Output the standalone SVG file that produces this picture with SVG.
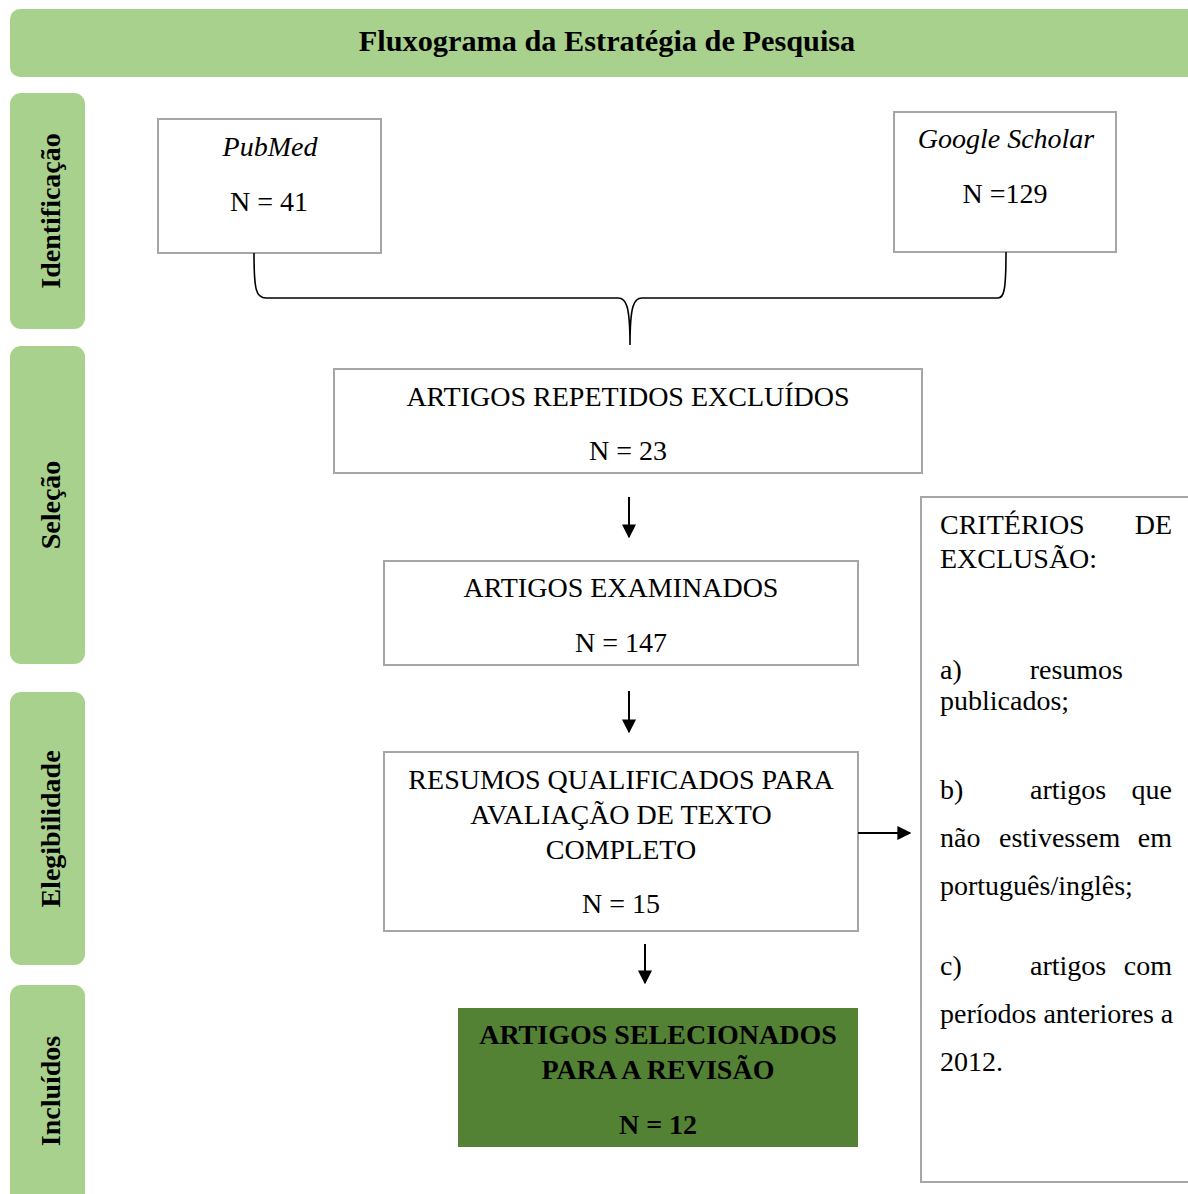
<svg xmlns="http://www.w3.org/2000/svg" width="1188" height="1194" viewBox="0 0 1188 1194">
<defs>
<style>
.t{font-family:"Liberation Serif","Times New Roman",serif;font-size:28px;fill:#000}
.h{font-size:30.3px}
.b{font-weight:bold}
.i{font-style:italic}
.band{fill:#A9D18E}
.box{fill:#fff;stroke:#A6A6A6;stroke-width:2}
.ln{fill:none;stroke:#000;stroke-width:2}
</style>
<marker id="ah" viewBox="0 0 10 10" refX="9" refY="5" markerWidth="7" markerHeight="7" markerUnits="strokeWidth" orient="auto">
<path d="M0,0 L10,5 L0,10 z" fill="#000"/>
</marker>
</defs>
<rect width="1188" height="1194" fill="#fff"/>

<g id="header">
<rect class="band" x="10" y="9" width="1200" height="68" rx="10"/>
<text class="t b h" x="607" y="51" text-anchor="middle">Fluxograma da Estratégia de Pesquisa</text>
</g>

<g id="stage-identificacao">
<rect class="band" x="10" y="93" width="75" height="236" rx="11"/>
<text class="t b" transform="translate(60,211) rotate(-90)" text-anchor="middle">Identificação</text>
</g>
<g id="stage-selecao">
<rect class="band" x="10" y="346" width="75" height="318" rx="11"/>
<text class="t b" transform="translate(60,505) rotate(-90)" text-anchor="middle">Seleção</text>
</g>
<g id="stage-elegibilidade">
<rect class="band" x="10" y="692" width="75" height="273" rx="11"/>
<text class="t b" transform="translate(60,829) rotate(-90)" text-anchor="middle">Elegibilidade</text>
</g>
<g id="stage-incluidos">
<rect class="band" x="10" y="985" width="75" height="230" rx="11"/>
<text class="t b" transform="translate(60,1091) rotate(-90)" text-anchor="middle">Incluídos</text>
</g>

<g id="pubmed">
<rect class="box" x="158" y="119" width="223" height="134"/>
<text class="t i" x="270" y="156" text-anchor="middle">PubMed</text>
<text class="t" x="269" y="211" text-anchor="middle">N = 41</text>
</g>

<g id="scholar">
<rect class="box" x="894" y="112" width="222" height="140"/>
<text class="t i" x="1006" y="148" text-anchor="middle">Google Scholar</text>
<text class="t" x="1005" y="203" text-anchor="middle">N =129</text>
</g>

<g id="repetidos">
<rect class="box" x="334" y="369" width="588" height="104"/>
<text class="t" x="628" y="406" text-anchor="middle">ARTIGOS REPETIDOS EXCLUÍDOS</text>
<text class="t" x="628" y="460" text-anchor="middle">N = 23</text>
</g>

<g id="examinados">
<rect class="box" x="384" y="561" width="474" height="104"/>
<text class="t" x="621" y="597" text-anchor="middle">ARTIGOS EXAMINADOS</text>
<text class="t" x="621" y="652" text-anchor="middle">N = 147</text>
</g>

<g id="qualificados">
<rect class="box" x="384" y="752" width="474" height="179"/>
<text class="t" x="621" y="789" text-anchor="middle">RESUMOS QUALIFICADOS PARA</text>
<text class="t" x="621" y="824" text-anchor="middle">AVALIAÇÃO DE TEXTO</text>
<text class="t" x="621" y="859" text-anchor="middle">COMPLETO</text>
<text class="t" x="621" y="913" text-anchor="middle">N = 15</text>
</g>

<g id="selecionados">
<rect x="458" y="1008" width="400" height="139" fill="#548235"/>
<text class="t b" x="658" y="1044" text-anchor="middle">ARTIGOS SELECIONADOS</text>
<text class="t b" x="658" y="1079" text-anchor="middle">PARA A REVISÃO</text>
<text class="t b" x="658" y="1134" text-anchor="middle">N = 12</text>
</g>

<g id="criterios">
<rect class="box" x="921" y="497" width="280" height="685"/>
<text class="t" x="940" y="534">CRITÉRIOS</text>
<text class="t" x="1172" y="534" text-anchor="end">DE</text>
<text class="t" x="940" y="568">EXCLUSÃO:</text>
<text class="t" x="940" y="679">a)</text>
<text class="t" x="1123" y="679" text-anchor="end">resumos</text>
<text class="t" x="940" y="710">publicados;</text>
<text class="t" x="940" y="799">b)</text>
<text class="t" x="1030" y="799">artigos</text>
<text class="t" x="1172" y="799" text-anchor="end">que</text>
<text class="t" x="940" y="847">não</text>
<text class="t" x="999" y="847">estivessem</text>
<text class="t" x="1172" y="847" text-anchor="end">em</text>
<text class="t" x="940" y="895">português/inglês;</text>
<text class="t" x="940" y="975">c)</text>
<text class="t" x="1030" y="975">artigos</text>
<text class="t" x="1172" y="975" text-anchor="end">com</text>
<text class="t" x="940" y="1023">períodos anteriores a</text>
<text class="t" x="940" y="1071">2012.</text>
</g>

<g id="connectors">
<path d="M254,253 C254,290 256,298 266,298 L618,298 C626,298 630,305 630,345 C630,305 634,298 642,298 L998,298 C1004,298 1006,290 1006,252" fill="none" stroke="#000" stroke-width="1.6"/>
<line class="ln" x1="629" y1="497" x2="629" y2="537" marker-end="url(#ah)"/>
<line class="ln" x1="629" y1="691" x2="629" y2="732" marker-end="url(#ah)"/>
<line class="ln" x1="645" y1="944" x2="645" y2="983" marker-end="url(#ah)"/>
<line class="ln" x1="858" y1="833" x2="910" y2="833" marker-end="url(#ah)"/>
</g>
</svg>
